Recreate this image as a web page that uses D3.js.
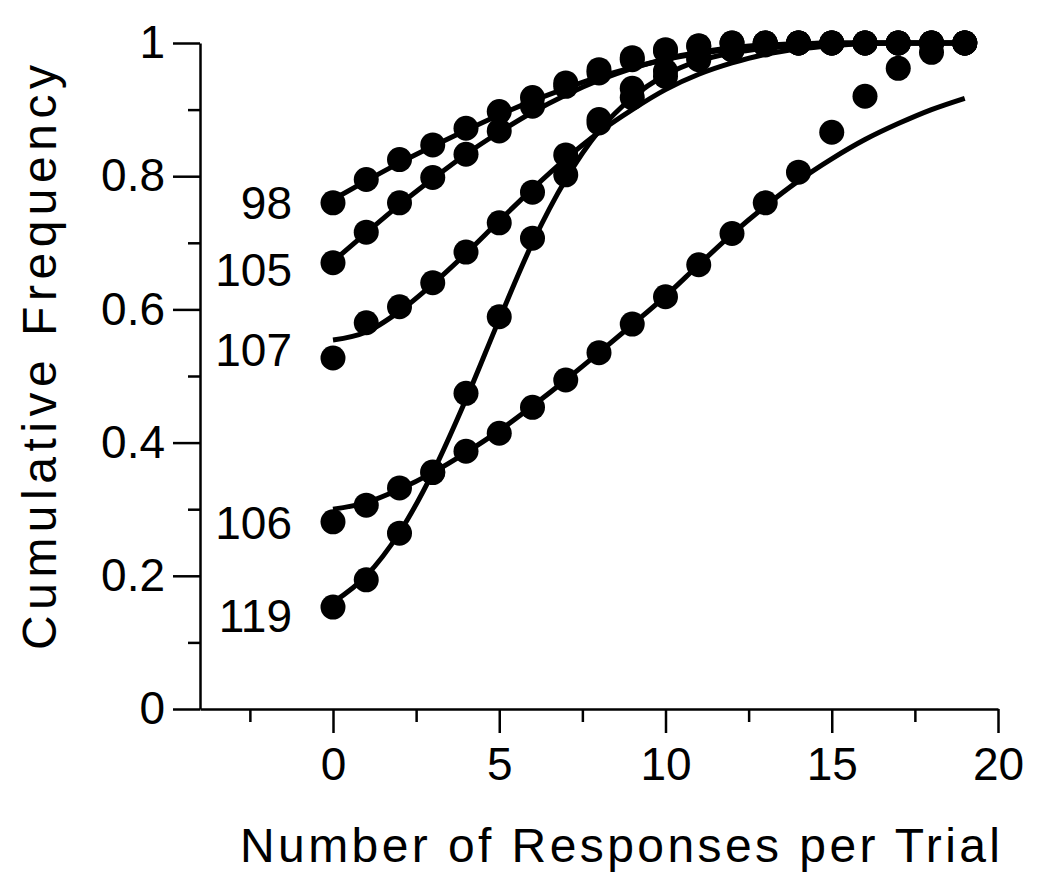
<!DOCTYPE html>
<html>
<head>
<meta charset="utf-8">
<script src="https://cdn.jsdelivr.net/npm/d3@7"></script>
<style>
  body { margin: 0; background: #fff; }
  text { font-family: "Liberation Sans", Arial, sans-serif; fill: #000; }
</style>
</head>
<body>
<div id="chart"></div>
<script>
// trials (x) shared by every series
const responses = d3.range(0, 20);

const seriesNames = ["98", "105", "107", "106", "119"];

// observed cumulative frequencies
const obs98  = [0.76, 0.795, 0.825, 0.847, 0.872, 0.897, 0.918, 0.94, 0.96, 0.978, 0.99, 0.996, 1, 1, 1, 1, 1, 1, 1, 1];
const obs105 = [0.67, 0.716, 0.76, 0.798, 0.833, 0.868, 0.905, 0.935, 0.955, 0.975, 0.988, 0.995, 1, 1, 1, 1, 1, 1, 1, 1];
const obs107 = [0.527, 0.58, 0.604, 0.64, 0.686, 0.73, 0.776, 0.832, 0.885, 0.932, 0.958, 0.978, 0.99, 1, 1, 1, 1, 1, 1, 1];
const obs106 = [0.281, 0.306, 0.332, 0.355, 0.387, 0.414, 0.453, 0.494, 0.535, 0.578, 0.619, 0.667, 0.714, 0.76, 0.806, 0.866, 0.92, 0.962, 0.986, 1];
const obs119 = [0.153, 0.194, 0.264, 0.356, 0.474, 0.589, 0.707, 0.802, 0.88, 0.918, 0.95, 0.975, 0.99, 0.997, 1, 1, 1, 1, 1, 1];

// fitted curves, read at the same x values
const fit98  = [0.765, 0.793, 0.82, 0.845, 0.869, 0.892, 0.913, 0.932, 0.949, 0.963, 0.975, 0.984, 0.991, 0.995, 0.998, 1, 1, 1, 1, 1];
const fit105 = [0.672, 0.715, 0.757, 0.796, 0.833, 0.866, 0.896, 0.922, 0.944, 0.962, 0.976, 0.986, 0.993, 0.997, 0.999, 1, 1, 1, 1, 1];
const fit107 = [0.554, 0.566, 0.597, 0.638, 0.684, 0.733, 0.781, 0.826, 0.866, 0.9, 0.93, 0.953, 0.97, 0.983, 0.991, 0.996, 0.999, 1, 1, 1];
const fit106 = [0.3, 0.31, 0.33, 0.355, 0.385, 0.418, 0.455, 0.494, 0.535, 0.577, 0.62, 0.667, 0.713, 0.755, 0.793, 0.826, 0.855, 0.879, 0.9, 0.917];
const fit119 = [0.16, 0.2, 0.265, 0.355, 0.465, 0.585, 0.7, 0.795, 0.868, 0.918, 0.952, 0.973, 0.985, 0.992, 0.996, 0.998, 1, 1, 1, 1];

// where each series label sits (in frequency units)
const labelAt = [0.76, 0.66, 0.54, 0.28, 0.14];

const xMajor = [0, 5, 10, 15, 20];
const xMinor = [-2.5, 2.5, 7.5, 12.5, 17.5];
const yMajor = [0, 0.2, 0.4, 0.6, 0.8, 1];
const yMinor = [0.1, 0.3, 0.5, 0.7, 0.9];

const observed = [obs98, obs105, obs107, obs106, obs119];
const fitted = [fit98, fit105, fit107, fit106, fit119];

const width = 1050, height = 884;

const svg = d3.select("#chart")
  .append("svg")
  .attr("width", width)
  .attr("height", height);

const x = d3.scaleLinear().domain([-4, 20]).range([200, 998]);
const y = d3.scaleLinear().domain([0, 1]).range([709, 43]);

// x axis: major ticks with labels, minor ticks without
svg.append("g")
  .attr("transform", "translate(0,709)")
  .call(d3.axisBottom(x).tickValues(xMajor).tickSize(24).tickSizeOuter(0).tickPadding(14).tickFormat(d3.format("d")));
svg.append("g")
  .attr("transform", "translate(0,709)")
  .call(d3.axisBottom(x).tickValues(xMinor).tickSize(13).tickSizeOuter(0).tickFormat(""))
  .select(".domain").remove();

// y axis
svg.append("g")
  .attr("transform", "translate(200,0)")
  .call(d3.axisLeft(y).tickValues(yMajor).tickSize(27).tickSizeOuter(0).tickPadding(8)
    .tickFormat(d => d === 0 || d === 1 ? d3.format("d")(d) : d3.format(".1f")(d)));
svg.append("g")
  .attr("transform", "translate(200,0)")
  .call(d3.axisLeft(y).tickValues(yMinor).tickSize(12).tickSizeOuter(0).tickFormat(""))
  .select(".domain").remove();

svg.selectAll(".domain, .tick line")
  .attr("stroke", "#000")
  .attr("stroke-width", 2.5);
svg.selectAll(".tick text")
  .attr("font-size", 46)
  .attr("font-family", "Liberation Sans, Arial, sans-serif")
  .attr("fill", "#000");

// axis titles
svg.append("text")
  .attr("x", 240)
  .attr("y", 862)
  .attr("font-size", 48)
  .attr("textLength", 760)
  .attr("lengthAdjust", "spacing")
  .text("Number of Responses per Trial");

svg.append("text")
  .attr("transform", "translate(56,650) rotate(-90)")
  .attr("font-size", 48)
  .attr("textLength", 585)
  .attr("lengthAdjust", "spacing")
  .text("Cumulative Frequency");

// fitted curves
const line = d3.line()
  .x((d, i) => x(responses[i]))
  .y(d => y(d))
  .curve(d3.curveMonotoneX);

svg.append("g")
  .selectAll("path")
  .data(fitted)
  .enter()
  .append("path")
  .attr("d", line)
  .attr("fill", "none")
  .attr("stroke", "#000")
  .attr("stroke-width", 5);

// observed points
observed.forEach(vals => {
  svg.append("g")
    .selectAll("circle")
    .data(vals)
    .enter()
    .append("circle")
    .attr("cx", (d, i) => x(responses[i]))
    .attr("cy", d => y(d))
    .attr("r", 12.5)
    .attr("fill", "#000");
});

// series labels
svg.append("g")
  .selectAll("text")
  .data(seriesNames)
  .enter()
  .append("text")
  .attr("x", 292)
  .attr("y", (d, i) => y(labelAt[i]))
  .attr("dy", "0.36em")
  .attr("text-anchor", "end")
  .attr("font-size", 46)
  .text(d => d);
</script>
</body>
</html>
